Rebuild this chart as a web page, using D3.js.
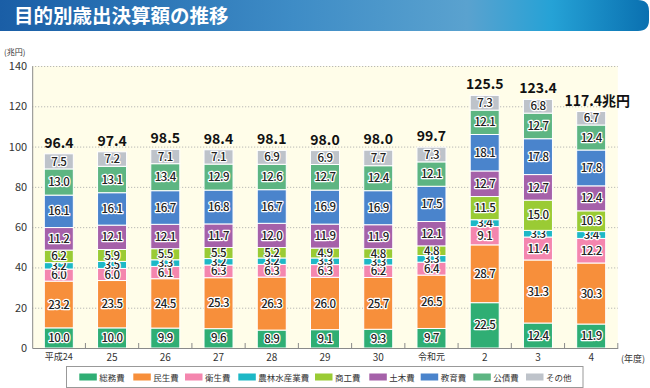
<!DOCTYPE html>
<html><head><meta charset="utf-8">
<script src="https://cdn.jsdelivr.net/npm/d3@7"></script>
<style>
html,body{margin:0;padding:0;background:#fff;}
svg{display:block;font-family:"Noto Sans CJK JP","Noto Sans",sans-serif;}
</style></head>
<body>
<svg id="chart" width="650" height="388"></svg>
<script>
const title = "目的別歳出決算額の推移";
const categories = ["平成24","25","26","27","28","29","30","令和元","2","3","4"];
const seriesNames = ["総務費","民生費","衛生費","農林水産業費","商工費","土木費","教育費","公債費","その他"];
const seriesColors = ["#2fae74","#f78f3b","#f486ae","#1db8c6","#9acb34","#a561a9","#4a84cc","#5db582","#bec3ca"];
const somu    = [10.0,10.0,9.9,9.6,8.9,9.1,9.3,9.7,22.5,12.4,11.9];
const minsei  = [23.2,23.5,24.5,25.3,26.3,26.0,25.7,26.5,28.7,31.3,30.3];
const eisei   = [6.0,6.0,6.1,6.3,6.3,6.3,6.2,6.4,9.1,11.4,12.2];
const norin   = [3.2,3.5,3.3,3.2,3.2,3.3,3.3,3.3,3.4,3.3,3.4];
const shoko   = [6.2,5.9,5.5,5.5,5.2,4.9,4.8,4.8,11.5,15.0,10.3];
const doboku  = [11.2,12.1,12.1,11.7,12.0,11.9,11.9,12.1,12.7,12.7,12.4];
const kyoiku  = [16.1,16.1,16.7,16.8,16.7,16.9,16.9,17.5,18.1,17.8,17.8];
const kosai   = [13.0,13.1,13.4,12.9,12.6,12.7,12.4,12.1,12.1,12.7,12.4];
const sonota  = [7.5,7.2,7.1,7.1,6.9,6.9,7.7,7.3,7.3,6.8,6.7];
const totals  = ["96.4","97.4","98.5","98.4","98.1","98.0","98.0","99.7","125.5","123.4","117.4兆円"];
const yTicks  = [0,20,40,60,80,100,120,140];

const seriesValues = [somu,minsei,eisei,norin,shoko,doboku,kyoiku,kosai,sonota];
const rows = categories.map((c,i)=>{
  const r = {cat:c};
  seriesNames.forEach((s,k)=> r[s]=seriesValues[k][i]);
  return r;
});

const svg = d3.select("#chart");
const defs = svg.append("defs");
const grad = defs.append("linearGradient").attr("id","tg").attr("x1","0").attr("x2","1").attr("y1","0").attr("y2","0");
[["0","#1a5ea6"],["0.45","#3e8cc6"],["0.72","#5aa2cf"],["0.85","#25a2d6"],["1","#0a70b0"]].forEach(([o,c])=>grad.append("stop").attr("offset",o).attr("stop-color",c));

// title bar
svg.append("path")
  .attr("d","M0,0 H638 Q649,0 649,11 V20 Q649,31 638,31 H0 Z")
  .attr("fill","url(#tg)");
svg.append("text").attr("x",14).attr("y",23).text(title)
  .attr("fill","#fff").attr("font-size",19.5).attr("font-weight",700);

const x = d3.scaleBand().domain(categories).range([32.2,617.8]).paddingInner(0.455).paddingOuter(0.2275);
const y = d3.scaleLinear().domain([0,140]).range([348,66]);

// background
svg.append("rect").attr("x",x.range()[0]).attr("y",y(140)).attr("width",x.range()[1]-x.range()[0]).attr("height",y(0)-y(140)).attr("fill","#fffde9");

// grid
svg.append("g").selectAll("line").data(yTicks.filter(t=>t>0)).join("line")
  .attr("x1",x.range()[0]).attr("x2",x.range()[1])
  .attr("y1",d=>y(d)+0.5).attr("y2",d=>y(d)+0.5)
  .attr("stroke","#a9a9a9").attr("stroke-width",1).attr("stroke-dasharray","1,2");

// y axis
const yAxis = d3.axisLeft(y).tickValues(yTicks).tickSize(0).tickPadding(5);
const gy = svg.append("g").attr("transform",`translate(${x.range()[0]},0)`).call(yAxis);
gy.select(".domain").attr("stroke","#8a8a8a");
gy.selectAll("text").attr("font-size",11).attr("fill","#333").attr("font-family","'Noto Sans CJK JP',sans-serif");
svg.append("text").attr("x",4).attr("y",55).text("(兆円)").attr("font-size",8).attr("fill","#333");

// stacked bars
const stacked = d3.stack().keys(seriesNames)(rows);
const color = d3.scaleOrdinal().domain(seriesNames).range(seriesColors);
const layers = svg.append("g").selectAll("g").data(stacked).join("g").attr("fill",d=>color(d.key));
layers.selectAll("rect").data(d=>d).join("rect")
  .attr("x",d=>x(d.data.cat)).attr("width",x.bandwidth())
  .attr("y",d=>y(d[1])).attr("height",d=>Math.max(0,y(d[0])-y(d[1])))
  .attr("stroke","#fff").attr("stroke-width",1);

// x axis
const xAxis = d3.axisBottom(x).tickSize(0).tickPadding(6);
const gx = svg.append("g").attr("transform",`translate(0,${y(0)})`).call(xAxis);
gx.select(".domain").attr("stroke","#8a8a8a");
gx.selectAll("text").attr("font-size",10).attr("fill","#333").attr("font-family","'Noto Sans CJK JP',sans-serif");
gx.selectAll("text").filter(d=>d.length>2).attr("font-size",9);
// separator ticks
const bounds = categories.slice(1).map(c=>x(c)-x.step()*x.paddingInner()/2).concat([x.range()[1]]);
svg.append("g").selectAll("line").data(bounds).join("line")
  .attr("x1",d=>d).attr("x2",d=>d).attr("y1",y(0)).attr("y2",y(0)-5)
  .attr("stroke","#8a8a8a");
svg.append("text").attr("x",621).attr("y",362).text("(年度)").attr("font-size",9).attr("fill","#333");

// segment labels
layers.selectAll("text").data(d=>d).join("text")
  .attr("x",d=>x(d.data.cat)+x.bandwidth()/2)
  .attr("y",d=>(y(d[0])+y(d[1]))/2)
  .attr("dy","0.36em")
  .attr("text-anchor","middle")
  .attr("font-size",11.5).attr("font-weight",500).attr("letter-spacing","-0.5")
  .attr("fill","#222").attr("stroke","#fff").attr("stroke-width",2.4).attr("paint-order","stroke").attr("stroke-linejoin","round")
  .text(d=>(d[1]-d[0]).toFixed(1));

// totals
const topLayer = stacked[stacked.length-1];
svg.append("g").selectAll("text").data(topLayer).join("text")
  .attr("x",(d,i)=> x(d.data.cat)+x.bandwidth()/2 + (i===10?6:0))
  .attr("y",d=>y(d[1])-6)
  .attr("text-anchor","middle")
  .attr("font-size",14).attr("font-weight",700).attr("fill","#111")
  .text((d,i)=>totals[i]);

// legend
const lg = svg.append("g");
lg.append("rect").attr("x",66.5).attr("y",366.5).attr("width",516.5).attr("height",21).attr("fill","#fff").attr("stroke","#999");
const legX = [79.3,133.3,185,238.3,315,369.3,420.7,473.3,526];
const items = lg.selectAll("g.item").data(seriesNames).join("g").attr("class","item")
  .attr("transform",(d,i)=>`translate(${legX[i]},373.5)`);
items.append("rect").attr("width",17.5).attr("height",7).attr("fill",d=>color(d));
items.append("text").attr("x",20).attr("y",7.3).text(d=>d).attr("font-size",8.5).attr("fill","#333");
</script>
</body></html>
